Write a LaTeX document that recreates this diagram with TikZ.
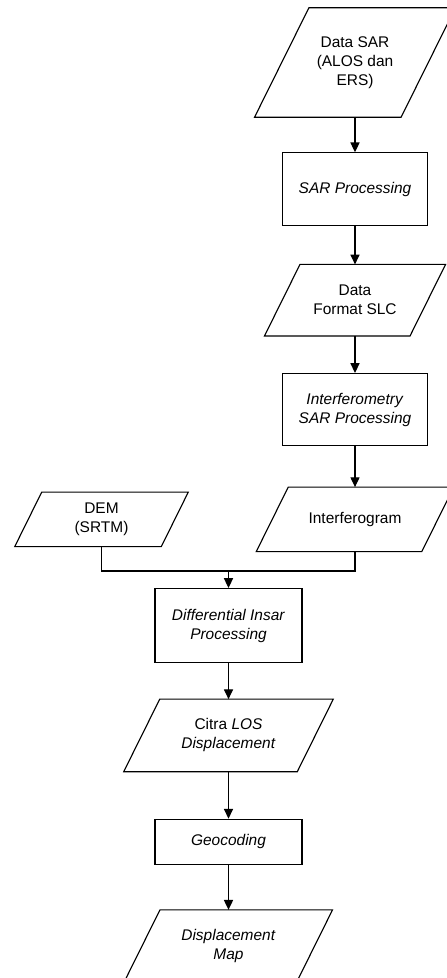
\documentclass[tikz,border=0pt]{standalone}
\usepackage{fontspec}
\setmainfont{Liberation Sans}
\usepackage{tikz}
\usetikzlibrary{positioning,arrows.meta}
\tikzset{%
  ln/.style={line width=.8pt},
  io/.style={rectangle,align=center,inner sep=1pt,
    append after command={\pgfextra{\draw[ln]
      ([xshift=#1]\tikzlastnode.north west) -- ([xshift=#1]\tikzlastnode.north east)
      -- ([xshift=-#1]\tikzlastnode.south east) -- ([xshift=-#1]\tikzlastnode.south west)
      -- cycle;}}},
  proc/.style={draw,rectangle,align=center,inner sep=1pt,line width=.8pt},
  arr/.style={line width=.8pt,-{Triangle[length=7pt,width=6.5pt]}}
}

\begin{document}
\begin{tikzpicture}[font=\fontsize{11}{13.5}\selectfont]
  \useasboundingbox (0,0) rectangle (11.175,-24.45);

  \node[io=.68cm,minimum width=3.65cm,minimum height=2.725cm] (datasar) at (8.875,-1.5625)
    {Data SAR\\(ALOS dan\\ERS)};
  \node[proc,minimum width=3.625cm,minimum height=1.825cm,below=.875cm of datasar] (sarproc)
    {\textit{SAR Processing}};
  \node[io=.444cm,minimum width=3.625cm,minimum height=1.775cm,below=.95cm of sarproc] (slc)
    {Data\\Format SLC};
  \node[proc,minimum width=3.625cm,minimum height=1.8cm,below=.925cm of slc] (insar)
    {\textit{Interferometry}\\\textit{SAR Processing}};
  \node[io=.4cm,minimum width=4.125cm,minimum height=1.6cm,below=1.025cm of insar] (ifg)
    {Interferogram};
  \node[io=.3375cm,minimum width=3.65cm,minimum height=1.35cm] (dem) at (2.5375,0 |- ifg)
    {DEM\\(SRTM)};

  \coordinate (join) at (5.7125,-14.275);
  \node[proc,minimum width=3.675cm,minimum height=1.85cm,below=.425cm of join] (diff)
    {\textit{Differential Insar}\\\textit{Processing}};
  \node[io=.45cm,minimum width=4.325cm,minimum height=1.8cm,below=.9cm of diff] (los)
    {Citra \textit{LOS}\\\textit{Displacement}};
  \node[proc,minimum width=3.675cm,minimum height=1.125cm,below=1.175cm of los] (geo)
    {\textit{Geocoding}};
  \node[io=.444cm,minimum width=4.3cm,minimum height=1.775cm,below=1.125cm of geo] (map)
    {\textit{Displacement}\\\textit{Map}};

  \draw[arr] (datasar) -- (sarproc);
  \draw[arr] (sarproc) -- (slc);
  \draw[arr] (slc) -- (insar);
  \draw[arr] (insar) -- (ifg);
  \draw[ln] (dem.south) |- (join) -| (ifg.south);
  \draw[arr] (join) -- (diff);
  \draw[arr] (diff) -- (los);
  \draw[arr] (los) -- (geo);
  \draw[arr] (geo) -- (map);
\end{tikzpicture}
\end{document}
